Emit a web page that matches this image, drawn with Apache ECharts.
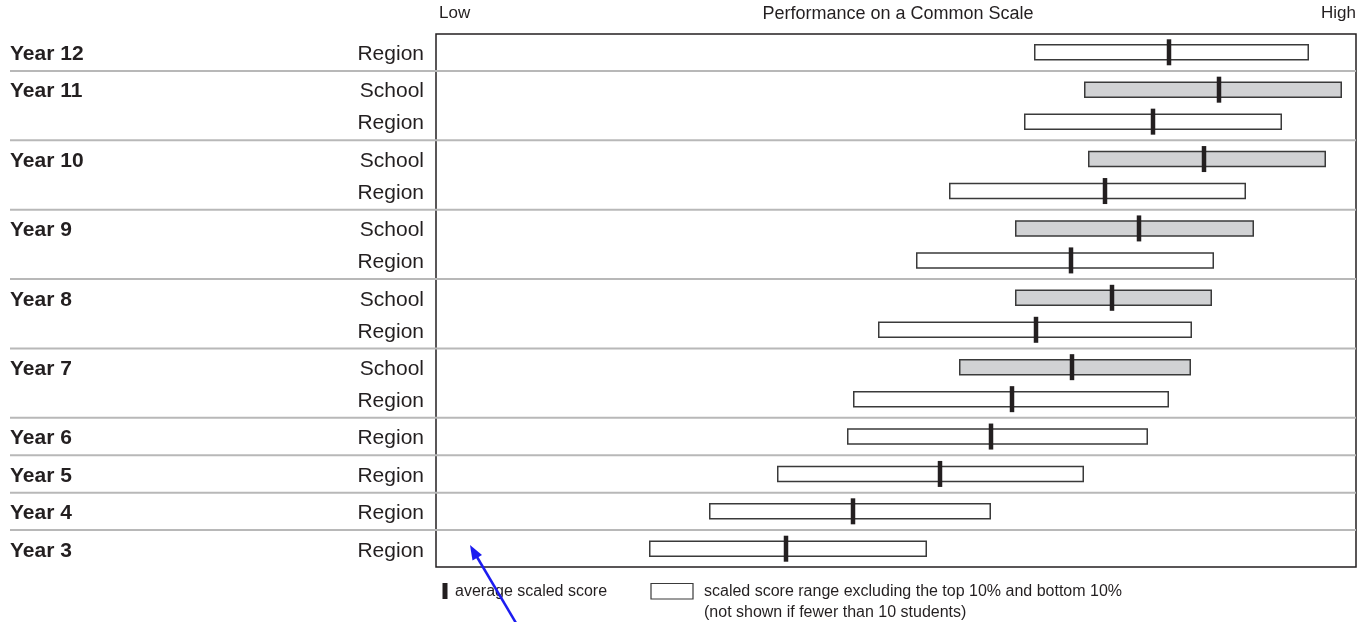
<!DOCTYPE html>
<html>
<head>
<meta charset="utf-8">
<script src="https://cdn.jsdelivr.net/npm/echarts@6/dist/echarts.min.js"></script>
<style>
  html, body { margin: 0; padding: 0; background: #fff; }
  #chart { width: 1370px; height: 622px; }
</style>
</head>
<body>
<div id="chart"></div>
<script>
// rows from top to bottom
var rowYear = ['Year 12', 'Year 11', 'Year 11', 'Year 10', 'Year 10', 'Year 9', 'Year 9',
  'Year 8', 'Year 8', 'Year 7', 'Year 7', 'Year 6', 'Year 5', 'Year 4', 'Year 3'];
var rowGroup = ['Region', 'School', 'Region', 'School', 'Region', 'School', 'Region',
  'School', 'Region', 'School', 'Region', 'Region', 'Region', 'Region', 'Region'];
// scaled score range (10th to 90th percentile) and average, common scale 0-920
var rangeLow = [598, 648, 588, 652, 513, 579, 480, 579, 442, 523, 417, 411, 341, 273, 213];
var rangeHigh = [873, 906, 846, 890, 810, 818, 778, 776, 756, 755, 733, 712, 648, 555, 491];
var average = [733, 783, 717, 768, 669, 703, 635, 676, 600, 636, 576, 555, 504, 417, 350];

var SCALE_MAX = 920;
var ROW_STEP = 32;      // spacing inside a year group
var GROUP_STEP = 37.4;  // spacing between year groups
var PAD = 18.3;

var FONT = '"Liberation Sans", Arial, Helvetica, sans-serif';
var INK = '#231f20';

// vertical slot of each row, built from the grouping
var rowPos = [];
var pos = PAD;
rowYear.forEach(function (y, i) {
  if (i > 0) {
    pos += (y === rowYear[i - 1]) ? ROW_STEP : GROUP_STEP;
  }
  rowPos.push(pos);
});
var totalHeight = pos + PAD;

var rows = rowYear.map(function (y, i) {
  return [rowPos[i], rangeLow[i], rangeHigh[i], average[i]];
});

function renderRow(params, api) {
  var i = params.dataIndex;
  var cs = params.coordSys;
  var y = api.coord([0, api.value(0)])[1];
  var lo = api.coord([api.value(1), 0])[0];
  var hi = api.coord([api.value(2), 0])[0];
  var avg = api.coord([api.value(3), 0])[0];
  var children = [];

  // grey rule between year groups, running under the labels too
  if (i > 0 && rowYear[i] !== rowYear[i - 1]) {
    var ySep = api.coord([0, (rowPos[i - 1] + rowPos[i]) / 2])[1];
    children.push({
      type: 'line',
      shape: {x1: 10, y1: ySep, x2: cs.x + cs.width, y2: ySep},
      style: {stroke: '#b8b8b8', lineWidth: 2}
    });
  }
  if (i === 0 || rowYear[i] !== rowYear[i - 1]) {
    children.push({
      type: 'text',
      x: 10, y: y + 2,
      style: {
        text: rowYear[i], fill: INK, align: 'left', verticalAlign: 'middle',
        fontSize: 21, fontWeight: 'bold', fontFamily: FONT
      }
    });
  }
  children.push({
    type: 'text',
    x: cs.x - 12, y: y + 2,
    style: {
      text: rowGroup[i], fill: INK, align: 'right', verticalAlign: 'middle',
      fontSize: 21, fontFamily: FONT
    }
  });
  children.push({
    type: 'rect',
    shape: {x: lo + 0.75, y: y - 7.5, width: hi - lo - 1.5, height: 15},
    style: {
      fill: rowGroup[i] === 'School' ? '#d1d2d4' : '#ffffff',
      stroke: '#3a3a3a', lineWidth: 1.5
    }
  });
  children.push({
    type: 'rect',
    shape: {x: avg - 2.25, y: y - 13, width: 4.5, height: 26},
    style: {fill: INK}
  });
  return {type: 'group', children: children};
}

var chart = echarts.init(document.getElementById('chart'), null, {
  width: 1370,
  height: 622
});

var option = {
  animation: false,
  backgroundColor: '#ffffff',
  grid: {
    left: 436,
    right: 14,
    top: 34,
    bottom: 55,
    show: true,
    borderColor: INK,
    borderWidth: 1.5
  },
  xAxis: {
    type: 'value',
    min: 0,
    max: SCALE_MAX,
    show: false
  },
  yAxis: {
    type: 'value',
    min: 0,
    max: totalHeight,
    inverse: true,
    show: false
  },
  series: [{
    type: 'custom',
    renderItem: renderRow,
    clip: false,
    encode: {x: [1, 2, 3], y: 0},
    data: rows
  }],
  graphic: [
    {type: 'text', x: 439, y: 5,
      style: {text: 'Low', fill: INK, fontSize: 17, fontFamily: FONT}},
    {type: 'text', x: 898, y: 5,
      style: {text: 'Performance on a Common Scale', fill: INK, fontSize: 18, fontFamily: FONT, align: 'center'}},
    {type: 'text', x: 1356, y: 5,
      style: {text: 'High', fill: INK, fontSize: 17, fontFamily: FONT, align: 'right'}},
    // legend
    {type: 'rect', shape: {x: 442.5, y: 583, width: 5, height: 16}, style: {fill: INK}},
    {type: 'text', x: 455, y: 592,
      style: {text: 'average scaled score', fill: INK, fontSize: 16, fontFamily: FONT, verticalAlign: 'middle'}},
    {type: 'rect', shape: {x: 651, y: 583.5, width: 42, height: 15.5},
      style: {fill: '#fff', stroke: '#3a3a3a', lineWidth: 1.2}},
    {type: 'text', x: 704, y: 592,
      style: {text: 'scaled score range excluding the top 10% and bottom 10%', fill: INK, fontSize: 16, fontFamily: FONT, verticalAlign: 'middle'}},
    {type: 'text', x: 704, y: 613,
      style: {text: '(not shown if fewer than 10 students)', fill: INK, fontSize: 16, fontFamily: FONT, verticalAlign: 'middle'}},
    // blue pointer arrow
    {type: 'line', shape: {x1: 516, y1: 623, x2: 477, y2: 557},
      style: {stroke: '#1c1cf0', lineWidth: 2.5}},
    {type: 'polygon', shape: {points: [[470, 545], [482, 555], [472.5, 560.5]]},
      style: {fill: '#1c1cf0'}}
  ]
};

chart.setOption(option);
</script>
</body>
</html>
